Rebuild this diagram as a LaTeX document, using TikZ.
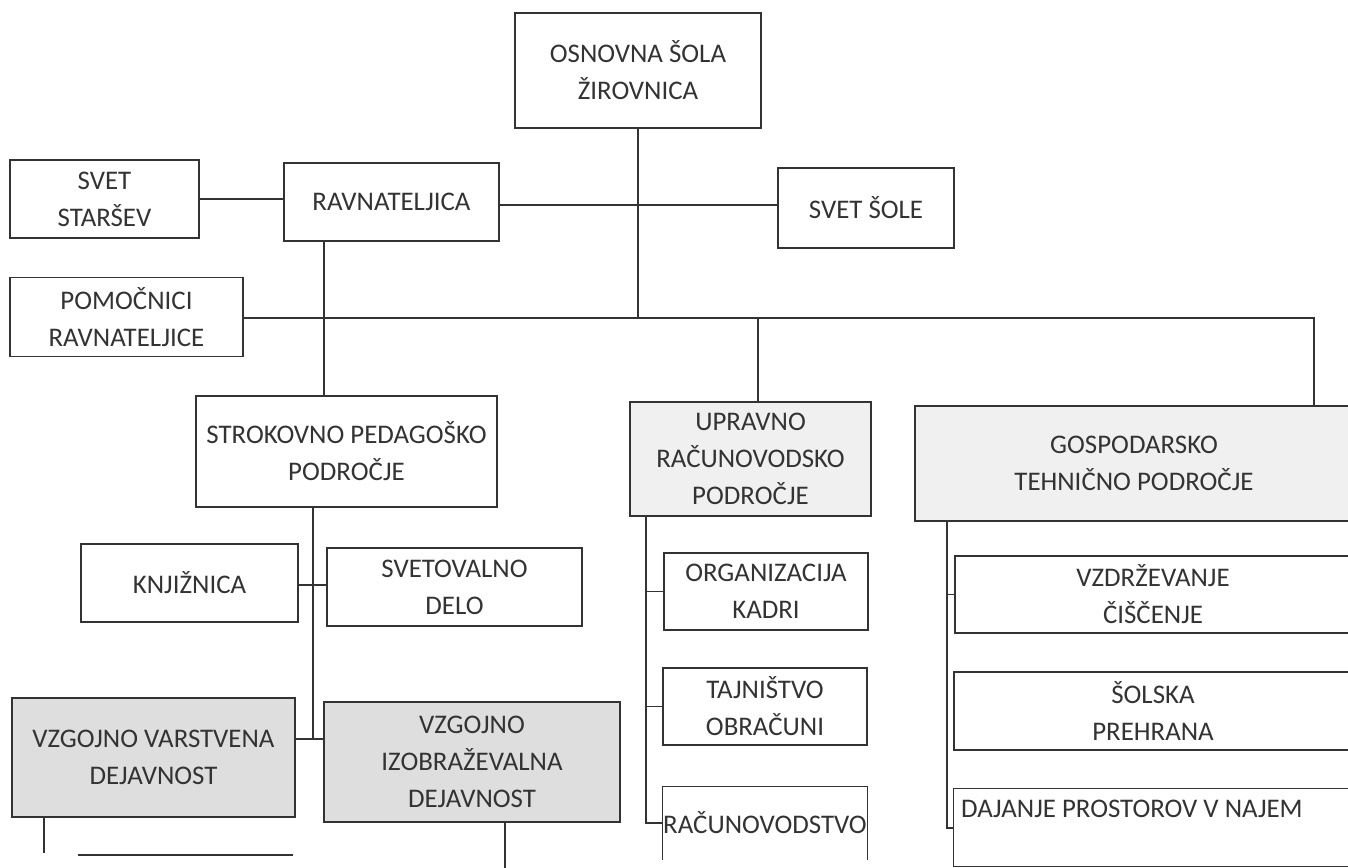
\documentclass[tikz,border=0pt]{standalone}
\usepackage{fontspec}
\setmainfont{Carlito}
\definecolor{ink}{gray}{0.2}
\definecolor{shadeA}{gray}{0.87}
\definecolor{shadeB}{gray}{0.94}

\begin{document}
\begin{tikzpicture} [x=0.02cm,y=-0.02cm,{box/.style={rectangle,draw=ink,line width=0.8pt,fill=white,text=ink,align=center,inner sep=0pt,font=\fontsize{15.3}{21}\selectfont}},{boxg/.style={box,fill=shadeA}},{boxl/.style={box,fill=shadeB}},{linest/.style={draw=ink,line width=1pt}}]
		\path[use as bounding box,clip] (0,0) rectangle (1348,868);
		%%top level
		\node at (638,70.5) [box,minimum width=4.92cm,minimum height=2.30cm] (osnovna) {OSNOVNA ŠOLA\\ŽIROVNICA};
		\node at (104.5,199) [box,minimum width=3.78cm,minimum height=1.56cm] (starsev) {SVET\\STARŠEV};
		\node at (391.5,202) [box,minimum width=4.30cm,minimum height=1.56cm] (ravna) {RAVNATELJICA};
		\node at (866,208) [box,minimum width=3.52cm,minimum height=1.60cm] (svetsole) {SVET ŠOLE};
		\node at (126.5,317) [box,minimum width=4.66cm,minimum height=1.58cm] (pomoc) {POMOČNICI\\RAVNATELJICE};

		%%areas
		\node at (346.5,451.5) [box,minimum width=6.02cm,minimum height=2.22cm] (strok) {STROKOVNO PEDAGOŠKO\\PODROČJE};
		\node at (750.5,459) [boxl,minimum width=4.82cm,minimum height=2.28cm] (upravno) {UPRAVNO\\RAČUNOVODSKO\\PODROČJE};
		\node at (1134,463.5) [boxl,minimum width=8.76cm,minimum height=2.30cm] (gosp) {GOSPODARSKO\\TEHNIČNO PODROČJE};

		%%strokovno pedagosko
		\node at (189.5,583) [box,minimum width=4.34cm,minimum height=1.56cm] (knjiz) {KNJIŽNICA};
		\node at (454.5,587) [box,minimum width=5.10cm,minimum height=1.56cm] (svetov) {SVETOVALNO\\DELO};
		\node at (153.5,757.5) [boxg,minimum width=5.66cm,minimum height=2.38cm] (varst) {VZGOJNO VARSTVENA\\DEJAVNOST};
		\node at (472,762) [boxg,minimum width=5.92cm,minimum height=2.40cm] (izobr) {VZGOJNO\\IZOBRAŽEVALNA\\DEJAVNOST};

		%%upravno racunovodsko
		\node at (766,591.5) [box,minimum width=4.08cm,minimum height=1.54cm] (org) {ORGANIZACIJA\\KADRI};
		\node at (765,706.5) [box,minimum width=4.08cm,minimum height=1.54cm] (tajn) {TAJNIŠTVO\\OBRAČUNI};
		\node at (765,823) [box,draw=none,fill=none,minimum width=4.04cm,minimum height=1.44cm] (racun) {RAČUNOVODSTVO};
		\draw [linest,line width=0.8pt] (racun.south west) -- (racun.north west) -- (racun.north east) -- (racun.south east);

		%%gospodarsko tehnicno
		\node at (1153,594.5) [box,minimum width=7.92cm,minimum height=1.54cm] (vzdrz) {VZDRŽEVANJE\\ČIŠČENJE};
		\node at (1153,711) [box,minimum width=7.96cm,minimum height=1.56cm] (prehr) {ŠOLSKA\\PREHRANA};
		\node at (953,788) [box,anchor=north west,align=flush left,inner xsep=3pt,text width=7.7cm,minimum width=8.0cm,minimum height=1.56cm] (dajanje) {DAJANJE PROSTOROV V NAJEM\\\mbox{}};

		%%bus and branch points
		\coordinate (bus) at (243,318);
		\coordinate (busR) at (1314,318);
		\coordinate (rv) at (324,0);
		\coordinate (sv) at (313,0);
		\coordinate (uv) at (758,0);
		\coordinate (us) at (646,0);
		\coordinate (gs) at (947,0);
		\coordinate (kv) at (0,585);
		\coordinate (vv) at (0,739);

		%%connectors
		\draw [linest] (starsev.east) -- (starsev.east -| ravna.west);
		\draw [linest] (ravna.east |- 0,205) -- (svetsole.west |- 0,205);
		\draw [linest] (osnovna.south) -- (osnovna.south |- bus);
		\draw [linest] (pomoc.east |- bus) -- (busR) -- (gosp.north -| busR);
		\draw [linest] (ravna.south -| rv) -- (strok.north -| rv);
		\draw [linest] (bus -| uv) -- (upravno.north -| uv);
		\draw [linest] (strok.south -| sv) -- (vv -| sv);
		\draw [linest] (knjiz.east |- kv) -- (svetov.west |- kv);
		\draw [linest] (varst.east |- vv) -- (izobr.west |- vv);
		\draw [linest] (upravno.south -| us) |- (racun.west);
		\draw [linest] (org.west -| us) -- (org.west);
		\draw [linest] (tajn.west -| us) -- (tajn.west);
		\draw [linest] (gosp.south -| gs) |- (dajanje.west);
		\draw [linest] (vzdrz.west -| gs) -- (vzdrz.west);

		%%cut off lines at the bottom
		\draw [linest,line width=0.6pt] (varst.south -| 44,0) -- (44,853);
		\draw [linest,line width=0.6pt] (78,855) -- (293,855);
		\draw [linest] (izobr.south -| 505,0) -- (505,868);
	\end{tikzpicture}
\end{document}
